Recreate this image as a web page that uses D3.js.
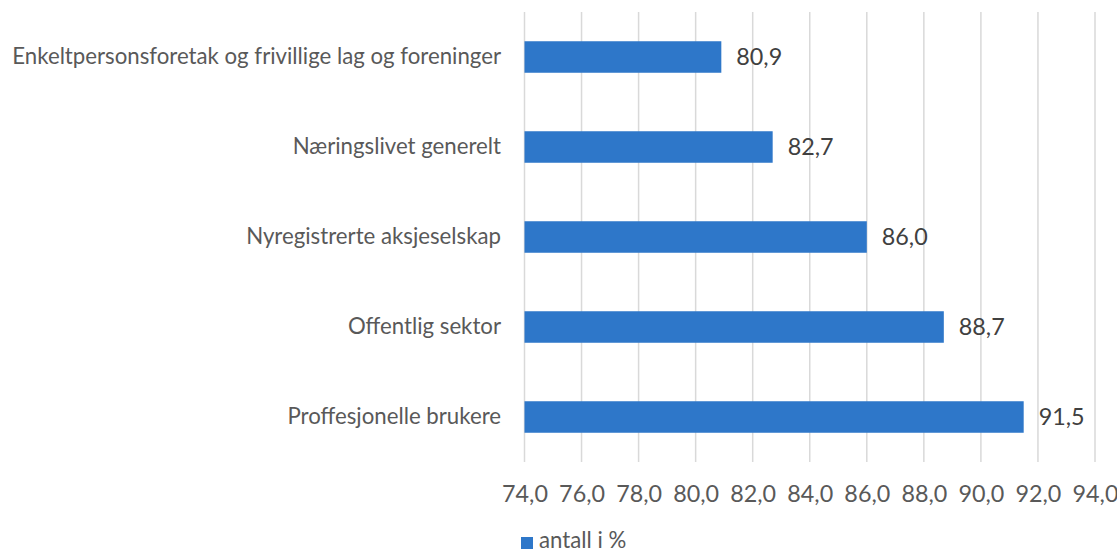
<!DOCTYPE html>
<html><head><meta charset="utf-8">
<script src="https://cdn.jsdelivr.net/npm/d3@7"></script>
<style>body{margin:0;background:#fff;} svg{display:block;}</style>
</head><body>
<svg id="chart" width="1117" height="553"></svg>
<script>
const categories = ["Enkeltpersonsforetak og frivillige lag og foreninger","Næringslivet generelt","Nyregistrerte aksjeselskap","Offentlig sektor","Proffesjonelle brukere"];
const values = [80.9, 82.7, 86.0, 88.7, 91.5];
const tickValues = [74,76,78,80,82,84,86,88,90,92,94];
const seriesName = "antall i %";

const svg = d3.select("#chart");
const fontFamily = "Lato, 'Open Sans', sans-serif";
const x = d3.scaleLinear().domain([74,94]).range([524.5, 1095]);
const y = d3.scaleBand().domain(categories).range([12, 462]).paddingInner(0.65).paddingOuter(0.325);
const fmt = v => d3.format(".1f")(v).replace(".", ",");

// fit font size to the longest category label width
const probe = svg.append("text").attr("font-family", fontFamily).attr("font-size", 20).text(categories[0]);
const w20 = probe.node().getComputedTextLength();
probe.remove();
const fs = 20 * 489 / w20;
const fsNum = fs * 1.05;

// gridlines
svg.append("g").selectAll("line").data(tickValues).join("line")
  .attr("x1", d => x(d)).attr("x2", d => x(d))
  .attr("y1", 12).attr("y2", 462)
  .attr("stroke", "#d9d9d9").attr("stroke-width", 1.5);

// bars
svg.append("g").selectAll("rect").data(values).join("rect")
  .attr("x", x(74)).attr("y", (d,i) => y(categories[i]))
  .attr("width", d => x(d) - x(74)).attr("height", y.bandwidth())
  .attr("fill", "#2e77c9");

// value labels
svg.append("g").selectAll("text").data(values).join("text")
  .attr("x", d => x(d) + 15).attr("y", (d,i) => y(categories[i]) + y.bandwidth()/2)
  .attr("dy", "0.35em").attr("font-family", fontFamily).attr("font-size", fsNum)
  .attr("fill", "#404040").text(d => fmt(d));

// category labels
const yAxis = d3.axisLeft(y).tickSize(0).tickPadding(0);
const gy = svg.append("g").attr("transform", "translate(501,0)").call(yAxis);
gy.select(".domain").remove();
gy.selectAll("text").attr("font-family", fontFamily).attr("font-size", fs).attr("fill", "#595959");

// x axis tick labels
const xAxis = d3.axisBottom(x).tickValues(tickValues).tickFormat(fmt).tickSize(0).tickPadding(0);
const gx = svg.append("g").attr("transform", "translate(0,485)").call(xAxis);
gx.select(".domain").remove();
gx.selectAll("text").attr("font-family", fontFamily).attr("font-size", fsNum).attr("fill", "#595959");

// legend
const lg = svg.append("g");
lg.append("rect").attr("x", 521).attr("y", 537).attr("width", 12).attr("height", 12).attr("fill", "#2e77c9");
lg.append("text").attr("x", 539).attr("y", 540).attr("dy", "0.35em")
  .attr("font-family", fontFamily).attr("font-size", fs).attr("fill", "#595959").text(seriesName);
</script>
</body></html>
